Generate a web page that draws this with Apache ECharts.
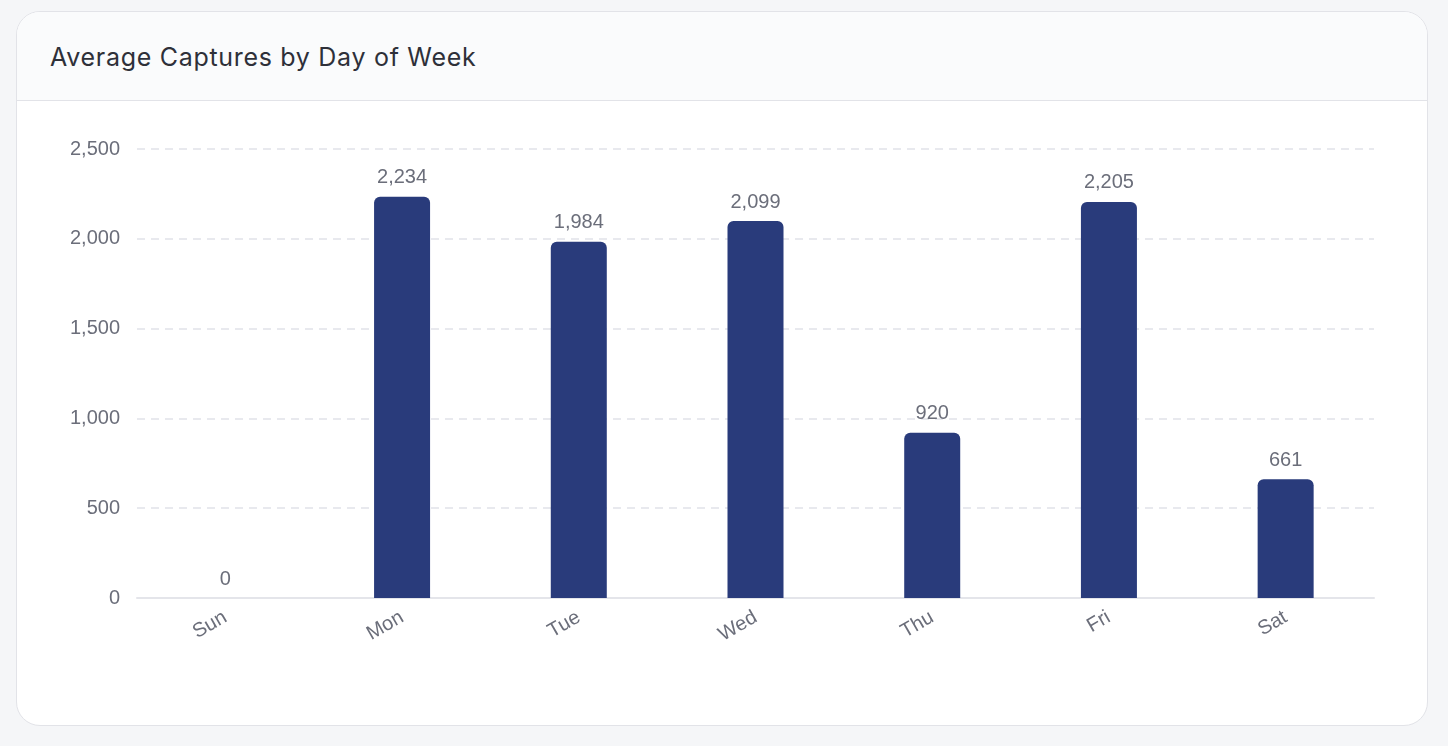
<!DOCTYPE html>
<html>
<head>
<meta charset="utf-8">
<script src="https://cdn.jsdelivr.net/npm/echarts@6/dist/echarts.min.js"></script>
<style>
  html, body { margin: 0; padding: 0; background: #f5f6f8; }
  .card {
    position: absolute; left: 16px; top: 11px; width: 1410px; height: 713px;
    background: #fff; border: 1px solid #e2e3e8; border-radius: 24px; overflow: hidden;
  }
  .card-head {
    height: 89px; background: #fafbfc; border-bottom: 1px solid #e2e3e8;
    box-sizing: border-box;
  }
  .card-head h3 {
    margin: 0; padding-left: 33px; line-height: 90px; letter-spacing: 0.7px;
    font-family: Inter, "Noto Sans", sans-serif; font-weight: 400; font-size: 25px; color: #2e3039;
  }
  #main { width: 1410px; height: 623px; }
</style>
</head>
<body>
<div class="card">
  <div class="card-head"><h3>Average Captures by Day of Week</h3></div>
  <div id="main"></div>
</div>
<script>
// 星期
const days = ['Sun', 'Mon', 'Tue', 'Wed', 'Thu', 'Fri', 'Sat'];
// 平均捕获数
const captures = [0, 2234, 1984, 2099, 920, 2205, 661];

const fmt = v => Number(v).toLocaleString('en-US');

let myChart = echarts.init(document.getElementById('main'));
myChart.setOption({
  textStyle: { fontFamily: '"Liberation Sans", Arial, sans-serif' },
  grid: { left: 120, right: 53, top: 48, bottom: 126 },
  xAxis: {
    type: 'category',
    data: days,
    axisLine: { lineStyle: { color: '#e4e5ea', width: 2 } },
    axisTick: { show: false },
    axisLabel: { rotate: 30, color: '#6b6e7a', fontSize: 20, margin: 18 }
  },
  yAxis: {
    type: 'value',
    min: 0,
    max: 2500,
    interval: 500,
    axisLine: { show: false },
    axisTick: { show: false },
    axisLabel: { color: '#6b6e7a', fontSize: 20, margin: 17, formatter: fmt },
    splitLine: { lineStyle: { color: '#e8e9ee', type: [8, 6], width: 2 } }
  },
  series: [{
    type: 'bar',
    data: captures,
    barWidth: 56,
    itemStyle: { color: '#293b7b', borderRadius: [6, 6, 0, 0] },
    label: {
      show: true,
      position: 'top',
      distance: 9,
      color: '#6b6e7a',
      fontSize: 20,
      formatter: p => fmt(p.value)
    }
  }]
});
</script>
</body>
</html>
